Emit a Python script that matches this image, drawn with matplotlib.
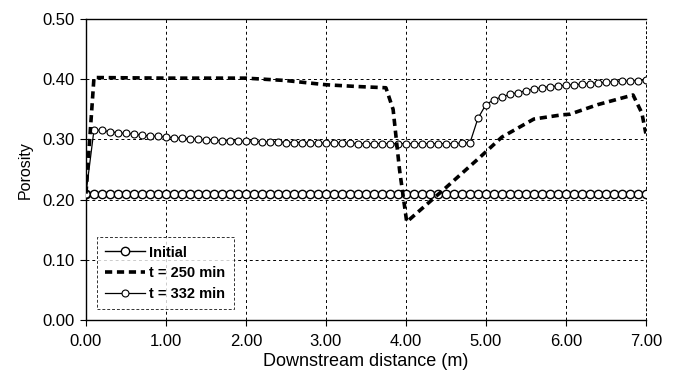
import matplotlib
matplotlib.use('Agg')
import matplotlib.pyplot as plt
import numpy as np

plt.rcParams['font.family'] = ['Liberation Sans', 'DejaVu Sans']

# sample positions (m), every 0.1 m
distance = [0.0, 0.1, 0.2, 0.3, 0.4, 0.5, 0.6, 0.7, 0.8, 0.9,
            1.0, 1.1, 1.2, 1.3, 1.4, 1.5, 1.6, 1.7, 1.8, 1.9,
            2.0, 2.1, 2.2, 2.3, 2.4, 2.5, 2.6, 2.7, 2.8, 2.9,
            3.0, 3.1, 3.2, 3.3, 3.4, 3.5, 3.6, 3.7, 3.8, 3.9,
            4.0, 4.1, 4.2, 4.3, 4.4, 4.5, 4.6, 4.7, 4.8, 4.9,
            5.0, 5.1, 5.2, 5.3, 5.4, 5.5, 5.6, 5.7, 5.8, 5.9,
            6.0, 6.1, 6.2, 6.3, 6.4, 6.5, 6.6, 6.7, 6.8, 6.9,
            7.0]

initial = [0.21, 0.21, 0.21, 0.21, 0.21, 0.21, 0.21, 0.21, 0.21, 0.21,
           0.21, 0.21, 0.21, 0.21, 0.21, 0.21, 0.21, 0.21, 0.21, 0.21,
           0.21, 0.21, 0.21, 0.21, 0.21, 0.21, 0.21, 0.21, 0.21, 0.21,
           0.21, 0.21, 0.21, 0.21, 0.21, 0.21, 0.21, 0.21, 0.21, 0.21,
           0.21, 0.21, 0.21, 0.21, 0.21, 0.21, 0.21, 0.21, 0.21, 0.21,
           0.21, 0.21, 0.21, 0.21, 0.21, 0.21, 0.21, 0.21, 0.21, 0.21,
           0.21, 0.21, 0.21, 0.21, 0.21, 0.21, 0.21, 0.21, 0.21, 0.21,
           0.21]

t332 = [0.210, 0.316, 0.315, 0.313, 0.311, 0.310, 0.309, 0.307, 0.306, 0.305,
        0.304, 0.303, 0.302, 0.301, 0.300, 0.299, 0.299, 0.298, 0.298, 0.297,
        0.297, 0.297, 0.296, 0.296, 0.296, 0.295, 0.295, 0.295, 0.294, 0.294,
        0.294, 0.294, 0.294, 0.294, 0.293, 0.293, 0.293, 0.293, 0.293, 0.293,
        0.293, 0.293, 0.293, 0.293, 0.293, 0.293, 0.293, 0.294, 0.294, 0.335,
        0.358, 0.366, 0.371, 0.375, 0.378, 0.381, 0.384, 0.386, 0.388, 0.389,
        0.390, 0.391, 0.392, 0.393, 0.394, 0.395, 0.396, 0.397, 0.397, 0.398,
        0.399]

# t = 250 min (no markers), read at break points
t250_x = [0.0, 0.1, 1.0, 2.0, 2.5, 3.0, 3.4, 3.75, 3.84, 3.92, 4.01,
          4.5, 4.93, 5.2, 5.6, 5.95, 6.05, 6.4, 6.84, 6.95, 7.0]
t250_y = [0.21, 0.403, 0.402, 0.402, 0.398, 0.391, 0.388, 0.386, 0.35, 0.25, 0.163,
          0.22, 0.271, 0.304, 0.334, 0.341, 0.342, 0.358, 0.374, 0.344, 0.31]

xticks = [0, 1, 2, 3, 4, 5, 6, 7]
yticks = [0.0, 0.1, 0.2, 0.3, 0.4, 0.5]

fig = plt.figure(figsize=(6.77, 3.76), dpi=100)
ax = fig.add_axes([0.127, 0.149, 0.827, 0.8])

ax.plot(distance, initial, color='black', lw=1.0, marker='o', ms=6,
        mfc='white', mec='black', mew=1.0, label='Initial', zorder=3)
ax.plot(t250_x, t250_y, color='black', lw=2.6, dashes=(2.0, 1.3),
        label='t = 250 min', zorder=4)
ax.plot(distance, t332, color='black', lw=0.9, marker='o', ms=5,
        mfc='white', mec='black', mew=0.8, label='t = 332 min', zorder=3)

ax.set_xlim(0, 7)
ax.set_ylim(0, 0.5)
ax.set_xticks(xticks)
ax.set_yticks(yticks)
ax.set_xticklabels(['%.2f' % v for v in xticks])
ax.set_yticklabels(['%.2f' % v for v in yticks])
ax.tick_params(labelsize=12, direction='out', length=4, width=0.8, colors='black')
ax.tick_params(axis='x', pad=6)
ax.tick_params(axis='y', pad=4)
ax.grid(True, color='black', linestyle=(0, (3, 3)), linewidth=0.7)
ax.set_axisbelow(True)

for s in ['left', 'bottom', 'top']:
    ax.spines[s].set_linewidth(1.0)
ax.spines['right'].set_linestyle((0, (2, 3)))
ax.spines['right'].set_linewidth(0.7)

ax.set_xlabel('Downstream distance (m)', fontsize=13, labelpad=3)
ax.set_ylabel('Porosity', fontsize=11.5, labelpad=7)

leg = ax.legend(loc='lower left', bbox_to_anchor=(0.019, 0.035), fontsize=10.5,
                frameon=True, fancybox=False, borderpad=0.6, labelspacing=0.45,
                handlelength=2.7, handletextpad=0.3, borderaxespad=0)
leg.get_frame().set_edgecolor('black')
leg.get_frame().set_linewidth(0.7)
leg.get_frame().set_linestyle((0, (3, 2)))
for t in leg.get_texts():
    t.set_fontweight('bold')

fig.savefig('out.png', dpi=100)
